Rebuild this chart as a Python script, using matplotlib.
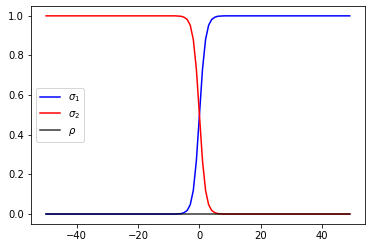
import numpy as np
import matplotlib
matplotlib.use('Agg')
import matplotlib.pyplot as plt

# x positions: integers from -50 to 49
x = np.arange(-50, 50)

# values, rows of 10 points
sigma1 = [0, 0, 0, 0, 0, 0, 0, 0, 0, 0,
          0, 0, 0, 0, 0, 0, 0, 0, 0, 0,
          0, 0, 0, 0, 0, 0, 0, 0, 0, 0,
          0, 0, 0, 0, 0, 0, 0, 0, 0, 0,
          0, 0, 0, 0.001, 0.002, 0.007, 0.018, 0.047, 0.119, 0.269,
          0.5, 0.731, 0.881, 0.953, 0.982, 0.993, 0.998, 0.999, 1, 1,
          1, 1, 1, 1, 1, 1, 1, 1, 1, 1,
          1, 1, 1, 1, 1, 1, 1, 1, 1, 1,
          1, 1, 1, 1, 1, 1, 1, 1, 1, 1,
          1, 1, 1, 1, 1, 1, 1, 1, 1, 1]
sigma2 = [1, 1, 1, 1, 1, 1, 1, 1, 1, 1,
          1, 1, 1, 1, 1, 1, 1, 1, 1, 1,
          1, 1, 1, 1, 1, 1, 1, 1, 1, 1,
          1, 1, 1, 1, 1, 1, 1, 1, 1, 1,
          1, 1, 1, 0.999, 0.998, 0.993, 0.982, 0.953, 0.881, 0.731,
          0.5, 0.269, 0.119, 0.047, 0.018, 0.007, 0.002, 0.001, 0, 0,
          0, 0, 0, 0, 0, 0, 0, 0, 0, 0,
          0, 0, 0, 0, 0, 0, 0, 0, 0, 0,
          0, 0, 0, 0, 0, 0, 0, 0, 0, 0,
          0, 0, 0, 0, 0, 0, 0, 0, 0, 0]
rho = [0] * 100

fig = plt.figure(figsize=(372 / 72, 248 / 72), dpi=72)
ax = fig.add_axes([0.083, 0.097, 0.898, 0.879])

ax.plot(x, sigma1, color='blue', label=r'$\sigma_1$')
ax.plot(x, sigma2, color='red', label=r'$\sigma_2$')
ax.plot(x, rho, color='black', alpha=0.8, label=r'$\rho$')

ax.set_yticks([0.0, 0.2, 0.4, 0.6, 0.8, 1.0])
ax.legend(loc='center left')

plt.savefig('out.png', dpi=72)
